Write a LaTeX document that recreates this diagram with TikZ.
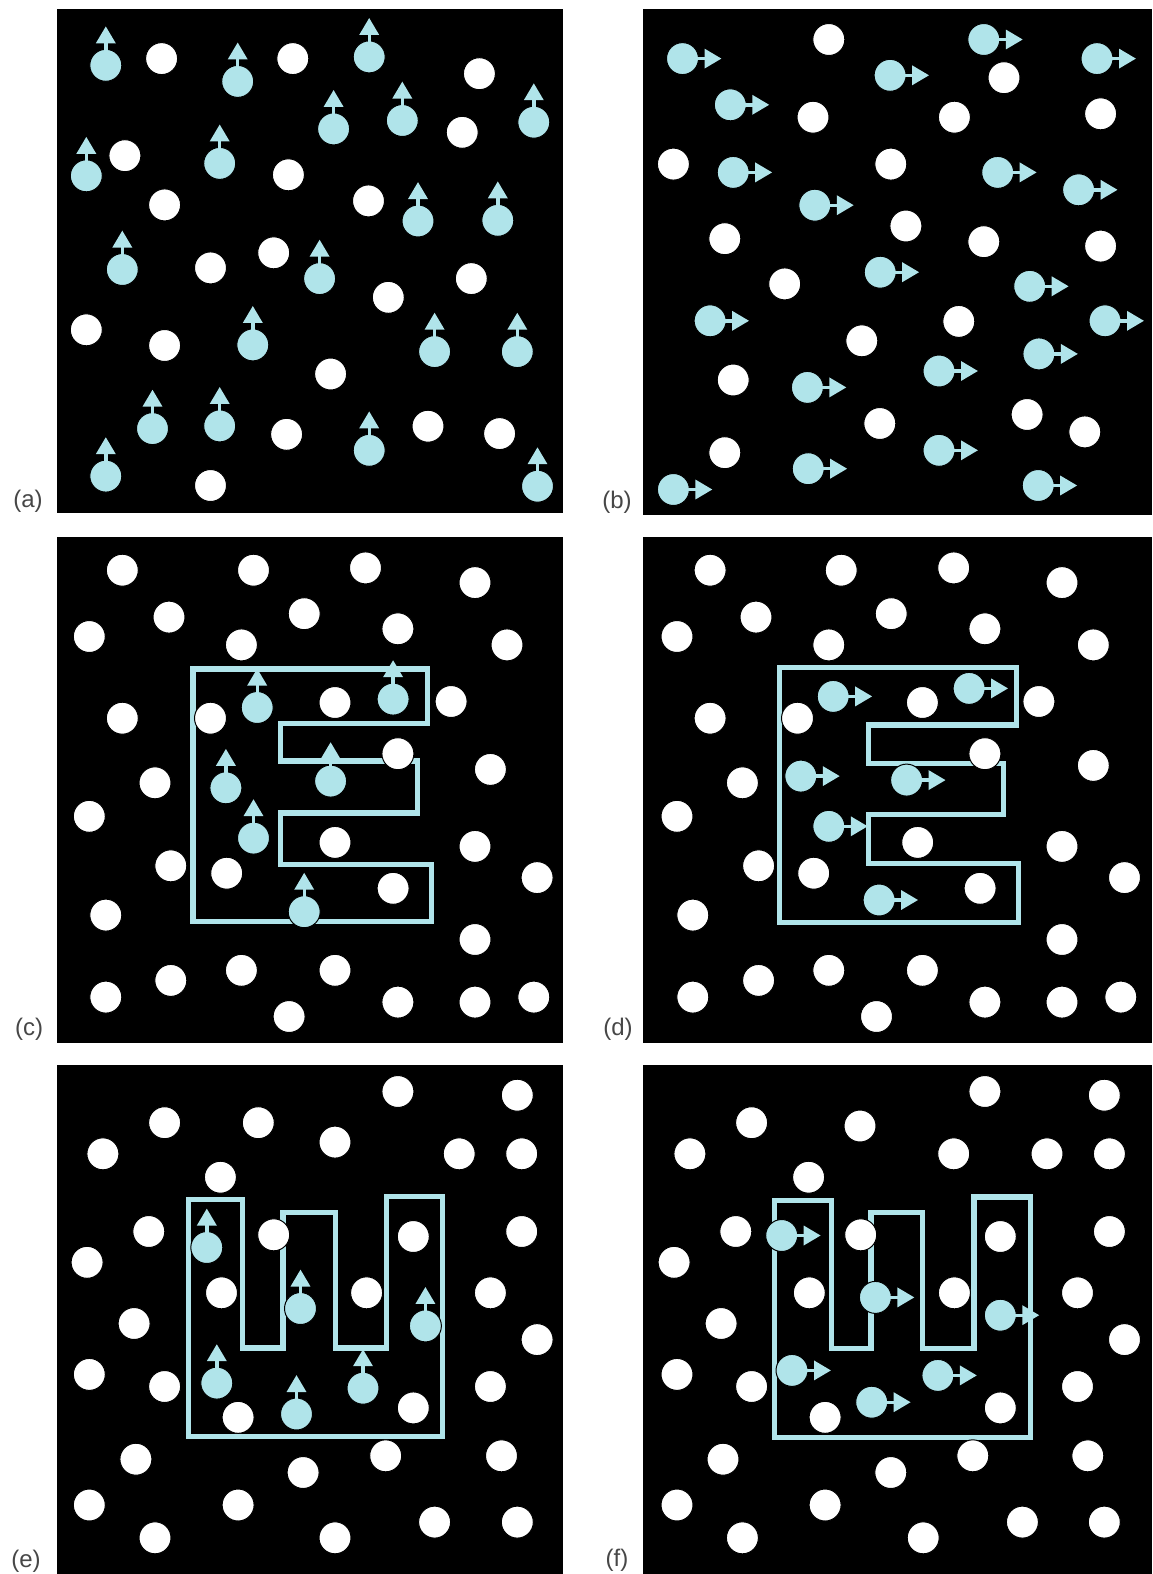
\documentclass[tikz,border=0pt]{standalone}
\usepackage{fontspec}
\setmainfont{Liberation Sans}
\usetikzlibrary{arrows.meta}
\definecolor{cyanlite}{RGB}{176,228,234}
\tikzset{
  panel/.style={fill=black},
  bead/.style={fill=white,draw=black,line width=0.5pt},
  probe/.style={fill=cyanlite,draw=black,line width=0.5pt},
  spin/.style={draw=cyanlite,line width=1.7pt,-{Triangle[length=8.5pt,width=9.5pt]}},
  track/.style={draw=cyanlite,line width=2.6pt,line join=miter},
  tag/.style={text=black!72,font=\fontsize{12}{14}\selectfont,inner sep=0pt}
}
\begin{document}
\begin{tikzpicture}[x=0.5pt,y=-0.5pt]
  \useasboundingbox[fill=white] (0,0) rectangle (1152,1574);

  % panels
  \fill[panel] (56.5,9.3) rectangle (563,513);
  \fill[panel] (643,9.3) rectangle (1152,515);
  \fill[panel] (56.5,536.7) rectangle (563,1043);
  \fill[panel] (643,536.7) rectangle (1152,1043);
  \fill[panel] (56.5,1064.7) rectangle (563,1574);
  \fill[panel] (643,1064.7) rectangle (1152,1574);

  % letter outlines
  \draw[track] (192.9,669) -- (427.3,669) -- (427.3,723.5) -- (280.3,723.5)
    -- (280.3,761) -- (417.7,761) -- (417.7,813) -- (280.3,813) -- (280.3,864.8)
    -- (431.7,864.8) -- (431.7,921.8) -- (192.9,921.8) -- cycle;
  \draw[track] (779.2,667.3) -- (1016.1,667.3) -- (1016.1,724.9) -- (868.1,724.9)
    -- (868.1,763.4) -- (1003.3,763.4) -- (1003.3,814.6) -- (868.1,814.6) -- (868.1,863.8)
    -- (1018.7,863.8) -- (1018.7,922.8) -- (779.2,922.8) -- cycle;
  \draw[track] (188.5,1199.7) -- (242.5,1199.7) -- (242.5,1348) -- (282.9,1348)
    -- (282.9,1212.1) -- (335.4,1212.1) -- (335.4,1348) -- (386.8,1348) -- (386.8,1196.3)
    -- (442.7,1196.3) -- (442.7,1436.7) -- (188.5,1436.7) -- cycle;
  \draw[track] (774.4,1200.3) -- (831.3,1200.3) -- (831.3,1348.7) -- (871,1348.7)
    -- (871,1212.1) -- (922.4,1212.1) -- (922.4,1348.7) -- (973.9,1348.7) -- (973.9,1197)
    -- (1030.4,1197) -- (1030.4,1437.4) -- (774.4,1437.4) -- cycle;

  % (a) white
  \foreach \x/\y in {161.6/58.6,292.8/58.6,479.4/73.7,462.2/132.3,124.9/155.7,
      288.4/174.8,164.6/204.9,368.5/200.9,273.7/252.8,210.5/267.9,471.3/278.6,
      388.3/297.3,86.3/329.8,164.6/345.5,330.6/374,286.6/434.3,428/426.2,
      499.6/433.6,210.5/485.5}
    \filldraw[bead] (\x,\y) circle[radius=8pt];
  % (a) up
  \foreach \x/\y in {105.8/65.3,237.7/81.4,369.2/56.9,333.6/128.9,402.3/120.5,
      533.8/122.2,86.3/175.8,219.7/163.4,418/221,497.8/220.3,122.3/269.5,
      319.6/278.6,252.8/344.9,434.6/351.6,517.3/351.6,152.5/428.6,219.7/425.9,
      369.2/450.3,105.8/476.1,537.5/486.2}
  {
    \filldraw[probe] (\x,\y) circle[radius=8pt];
    \draw[spin] (\x,\y) -- ++(0,-39);
  }

  % (b) white
  \foreach \x/\y in {828.8/39.5,1004/77.7,813/117.2,954.4/117.2,1100.6/113.8,
      673.4/164.1,890.8/164.1,905.9/226,724.8/238.7,983.8/241.7,1100.6/246.1,
      784.7/283.9,958.8/321.4,861.8/340.8,733.2/380,879.8/423.5,1027.1/414.5,
      1084.8/431.9,724.8/452.7}
    \filldraw[bead] (\x,\y) circle[radius=8pt];
  % (b) right
  \foreach \x/\y in {682.5/58.6,983.8/39.5,890.1/75.3,1097/58.6,730.3/104.8,
      733.2/172.4,997.7/172.4,1078.6/189.8,814.8/205.2,880.2/272.2,1029.7/286.3,
      710.1/320.8,1105/320.8,1038.9/353.9,939/371,807.4/387.4,939/450.3,
      808.2/468.7,1038.2/485.5,673.4/489.5}
  {
    \filldraw[probe] (\x,\y) circle[radius=8pt];
    \draw[spin] (\x,\y) -- ++(39,0);
  }

  % (c) white
  \foreach \x/\y in {122.3/570.2,253.5/570.2,365.5/567.9,475/582.6,169/617.1,
      304.2/613.7,89.3/636.5,241.4/644.9,397.9/628.8,507/644.9,122.3/718.2,
      210.5/718.2,335/702.5,451.1/701.5,397.9/753.7,490.4/769.4,155/782.8,
      89.3/816.3,335/842.4,475/846.4,170.8/865.8,226.7/873.2,537.1/877.6,
      393.1/888.3,105.8/915.1,475/939.5,241.4/970.3,335/970.3,170.8/980.4,
      105.8/997.1,397.9/1002.1,475/1002.1,533.8/997.1,289.1/1016.5}
    \filldraw[bead] (\x,\y) circle[radius=8pt];
  % (c) up
  \foreach \x/\y in {257.2/707.5,393.1/699.1,225.9/787.8,330.6/781.1,
      253.5/838.1,304.2/911.7}
  {
    \filldraw[probe] (\x,\y) circle[radius=8pt];
    \draw[spin] (\x,\y) -- ++(0,-39);
  }

  % (d) white
  \foreach \x/\y in {710.1/570.2,841.2/570.2,953.7/567.9,1062/582.6,756/617.1,
      891.2/613.7,677/636.5,828.8/644.9,984.9/628.8,1093.3/644.9,710.1/718.2,
      797.5/718.2,922.4/702.5,1038.9/701.5,984.9/753.7,1093.3/765.4,742.4/782.8,
      677/816.3,917.7/842.4,1062/846.4,758.6/865.8,813.7/873.2,1124.5/877.6,
      980.1/888.3,692.8/915.1,1062/939.5,828.8/970.3,922.4/970.3,758.6/980.4,
      692.8/997.1,984.9/1002.1,1062/1002.1,1120.8/997.1,876.5/1016.5}
    \filldraw[bead] (\x,\y) circle[radius=8pt];
  % (d) right
  \foreach \x/\y in {833.2/696.4,969.1/688.4,800.8/776.1,906.6/780.1,
      828.8/826.3,879.1/900}
  {
    \filldraw[probe] (\x,\y) circle[radius=8pt];
    \draw[spin] (\x,\y) -- ++(39,0);
  }

  % (e) white
  \foreach \x/\y in {397.9/1091.5,517.3/1095.2,164.6/1122.7,258.3/1122.7,
      335/1142.1,102.9/1153.8,459.2/1153.8,521.7/1153.8,220.4/1177.2,
      148.8/1231.5,273.7/1234.8,413.3/1236.5,521.7/1231.5,87.1/1262.3,
      221.5/1292.8,366.6/1292.8,490.4/1292.8,134.1/1323.5,537.1/1339.6,
      89.3/1374.4,164.6/1386.5,490.4/1386.5,238.1/1417.3,413.3/1407.9,
      135.9/1459.2,385.7/1455.8,501.5/1455.8,303.1/1472.5,89.3/1505,
      238.1/1505,434.6/1522.1,517.3/1522.1,155/1537.8,335/1537.8}
    \filldraw[bead] (\x,\y) circle[radius=8pt];
  % (e) up
  \foreach \x/\y in {206.8/1247.5,300.5/1308.5,425.4/1325.9,216.8/1383.1,
      363/1388.2,296.5/1414}
  {
    \filldraw[probe] (\x,\y) circle[radius=8pt];
    \draw[spin] (\x,\y) -- ++(0,-39);
  }

  % (f) white
  \foreach \x/\y in {984.9/1091.5,1104.3/1095.2,751.6/1122.7,860/1126,
      689.9/1153.8,953.7/1153.8,1047/1153.8,1109.4/1153.8,808.6/1177.2,
      735.8/1231.5,860.7/1234.8,1000.3/1236.5,1109.4/1231.5,674.1/1262.3,
      809.3/1292.8,954.4/1292.8,1077.5/1292.8,721.1/1323.5,1124.5/1339.6,
      677/1374.4,751.6/1386.5,1077.5/1386.5,825.1/1417.3,1000.3/1407.9,
      723/1459.2,972.8/1455.8,1087.8/1455.8,890.8/1472.5,677/1505,
      825.1/1505,1022.4/1522.1,1104.3/1522.1,742.4/1537.8,923.2/1537.8}
    \filldraw[bead] (\x,\y) circle[radius=8pt];
  % (f) right
  \foreach \x/\y in {781.7/1235.5,875.4/1297.4,1000.3/1315.2,792/1370.4,
      937.9/1375.4,871.7/1402.2}
  {
    \filldraw[probe] (\x,\y) circle[radius=8pt];
    \draw[spin] (\x,\y) -- ++(39,0);
  }

  % panel labels
  \node[tag] (la) at (28,501) {(a)};
  \node[tag] (lb) at (617,502) {(b)};
  \node[tag] (lc) at (29,1029) {(c)};
  \node[tag] (ld) at (618,1029) {(d)};
  \node[tag] (le) at (26,1561) {(e)};
  \node[tag] (lf) at (617,1560) {(f)};
\end{tikzpicture}
\end{document}
